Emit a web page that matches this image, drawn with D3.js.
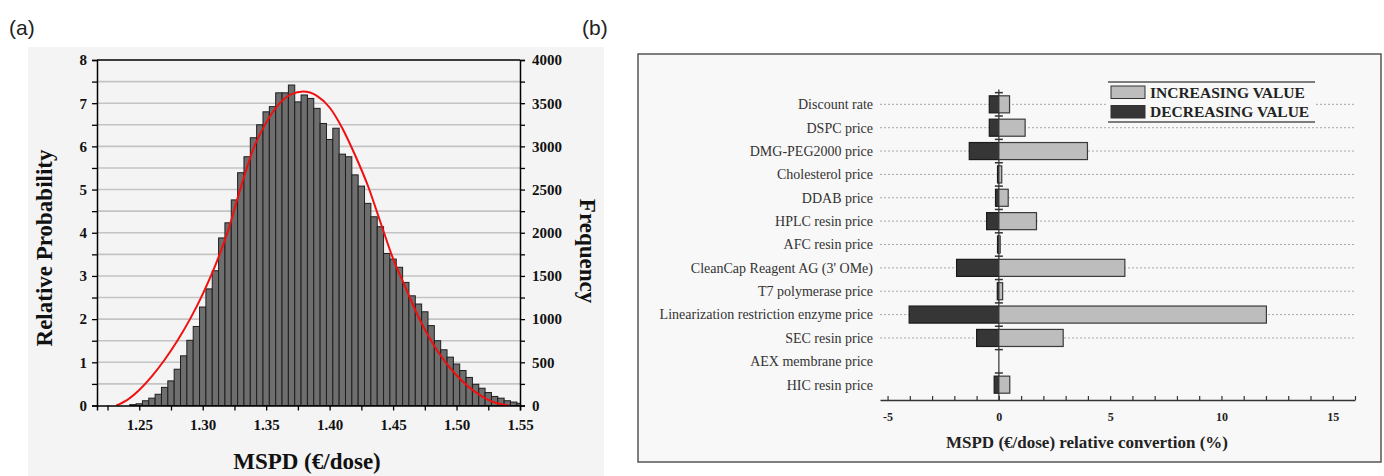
<!DOCTYPE html>
<html>
<head>
<meta charset="utf-8">
<title>MSPD histogram and tornado</title>
<script src="https://d3js.org/d3.v7.min.js"></script>
<style>
  body { margin: 0; background: #fff; }
  svg text { font-family: "Liberation Serif", "Times New Roman", serif; }
</style>
</head>
<body>
<div id="chart"></div>
<script>
// ---- data (a): histogram of MSPD, bin centres and relative probability
const binCenters = [1.245, 1.25, 1.255, 1.26, 1.265, 1.27, 1.275, 1.28, 1.285, 1.29, 1.295,
  1.30, 1.305, 1.31, 1.315, 1.32, 1.325, 1.33, 1.335, 1.34, 1.345, 1.35, 1.355, 1.36, 1.365,
  1.37, 1.375, 1.38, 1.385, 1.39, 1.395, 1.40, 1.405, 1.41, 1.415, 1.42, 1.425, 1.43, 1.435,
  1.44, 1.445, 1.45, 1.455, 1.46, 1.465, 1.47, 1.475, 1.48, 1.485, 1.49, 1.495, 1.50, 1.505,
  1.51, 1.515, 1.52, 1.525, 1.53, 1.535, 1.54, 1.545, 1.55];
const relProb = [0.02, 0.04, 0.11, 0.17, 0.26, 0.42, 0.57, 0.84, 1.15, 1.51, 1.83,
  2.28, 2.70, 3.12, 3.88, 4.23, 4.76, 5.39, 5.76, 6.20, 6.50, 6.80, 6.92, 7.24, 7.24,
  7.42, 7.03, 7.19, 7.11, 6.88, 6.53, 6.16, 6.42, 5.82, 5.76, 5.34, 5.08, 4.68, 4.37,
  4.14, 3.52, 3.39, 3.20, 2.85, 2.54, 2.35, 2.17, 1.85, 1.50, 1.29, 1.12, 0.96, 0.81,
  0.65, 0.49, 0.40, 0.30, 0.21, 0.17, 0.11, 0.08, 0.05];
const binWidth = 0.005;

// fitted curve, points
const fitX = [1.232, 1.24, 1.25, 1.26, 1.27, 1.28, 1.29, 1.30, 1.31, 1.32, 1.33,
  1.34, 1.35, 1.36, 1.37, 1.379, 1.39, 1.40, 1.41, 1.42, 1.43, 1.44, 1.45,
  1.46, 1.47, 1.48, 1.49, 1.50, 1.51, 1.52, 1.53, 1.541];
const fitY = [0, 0.12, 0.36, 0.68, 1.06, 1.50, 2.00, 2.58, 3.25, 4.05, 5.05,
  5.95, 6.55, 6.98, 7.21, 7.27, 7.17, 6.90, 6.42, 5.80, 5.10, 4.25, 3.40,
  2.72, 2.05, 1.50, 1.05, 0.70, 0.42, 0.21, 0.07, 0];

const xTicksA = [1.25, 1.30, 1.35, 1.40, 1.45, 1.50, 1.55];

// ---- data (b): tornado
const factors = ["Discount rate", "DSPC price", "DMG-PEG2000 price", "Cholesterol price",
  "DDAB price", "HPLC resin price", "AFC resin price", "CleanCap Reagent AG (3' OMe)",
  "T7 polymerase price", "Linearization restriction enzyme price", "SEC resin price",
  "AEX membrane price", "HIC resin price"];
const increasing = [0.48, 1.18, 3.98, 0.13, 0.42, 1.69, 0.06, 5.66, 0.17, 12.02, 2.89, 0, 0.49];
const decreasing = [-0.43, -0.43, -1.33, -0.06, -0.15, -0.55, -0.06, -1.90, -0.07, -4.03, -1.00, 0, -0.21];
const xTicksB = [-5, 0, 5, 10, 15];

const W = 1384, H = 476;
const svg = d3.select("#chart").append("svg")
  .attr("width", W).attr("height", H);

// ================= panel (a) =================
svg.append("rect").attr("x", 28).attr("y", 47).attr("width", 576).attr("height", 429)
  .attr("fill", "#f4f4f4");

const xA = d3.scaleLinear().domain([1.2167, 1.55]).range([97, 520]);
const yA = d3.scaleLinear().domain([0, 8]).range([405.5, 60]);
const yF = d3.scaleLinear().domain([0, 4000]).range([405.5, 60]);

// grid lines every 0.5
svg.append("g").selectAll("line")
  .data(d3.range(1, 16).map(i => i * 0.5))
  .join("line")
  .attr("x1", 97).attr("x2", 520)
  .attr("y1", d => yA(d)).attr("y2", d => yA(d))
  .attr("stroke", "#c4c4c4").attr("stroke-width", 1.6);

svg.append("clipPath").attr("id", "clipA")
  .append("rect").attr("x", 97).attr("y", 55).attr("width", 423).attr("height", 351);

const bars = svg.append("g").attr("clip-path", "url(#clipA)");
bars.selectAll("rect")
  .data(binCenters)
  .join("rect")
  .attr("x", d => xA(d - binWidth / 2))
  .attr("width", d => xA(d + binWidth / 2) - xA(d - binWidth / 2))
  .attr("y", (d, i) => yA(relProb[i]))
  .attr("height", (d, i) => yA(0) - yA(relProb[i]))
  .attr("fill", "#6e6e6e")
  .attr("stroke", "#1e1e1e").attr("stroke-width", 1);

const fitLine = d3.line()
  .x((d, i) => xA(fitX[i]))
  .y(d => yA(d))
  .curve(d3.curveMonotoneX);
bars.append("path")
  .attr("d", fitLine(fitY))
  .attr("fill", "none").attr("stroke", "#f01010").attr("stroke-width", 2);

// frame top
svg.append("line").attr("x1", 97).attr("x2", 520).attr("y1", 60).attr("y2", 60)
  .attr("stroke", "#000").attr("stroke-width", 1.5);

const axLeft = svg.append("g").attr("transform", "translate(97,0)")
  .call(d3.axisLeft(yA).tickValues(d3.range(0, 17).map(i => i * 0.5))
    .tickFormat(d => Number.isInteger(d) ? d : "").tickSize(5).tickPadding(5));
const axRight = svg.append("g").attr("transform", "translate(520,0)")
  .call(d3.axisRight(yF).tickValues(d3.range(0, 17).map(i => i * 250))
    .tickFormat(d => d % 500 === 0 ? d : "").tickSize(5).tickPadding(7));
const axBottom = svg.append("g").attr("transform", "translate(0,405.5)")
  .call(d3.axisBottom(xA).tickValues(d3.range(0, 14).map(i => 1.225 + i * 0.025))
    .tickFormat(d => xTicksA.some(t => Math.abs(t - d) < 1e-6) ? d3.format(".2f")(d) : "")
    .tickSize(5).tickPadding(9));

[axLeft, axRight, axBottom].forEach(g => {
  g.select(".domain").attr("stroke", "#000").attr("stroke-width", 1.5);
  g.selectAll(".tick line").attr("stroke", "#000").attr("stroke-width", 1.3);
  g.selectAll("text").attr("font-size", 15).attr("font-weight", "bold")
    .attr("font-family", "Liberation Serif").attr("fill", "#111");
});

svg.append("text")
  .attr("transform", "translate(52,248) rotate(-90)")
  .attr("text-anchor", "middle")
  .attr("font-size", 23).attr("font-weight", "bold").attr("fill", "#111")
  .text("Relative Probability");
svg.append("text")
  .attr("transform", "translate(580,251) rotate(90)")
  .attr("text-anchor", "middle")
  .attr("font-size", 23).attr("font-weight", "bold").attr("fill", "#111")
  .text("Frequency");
svg.append("text")
  .attr("x", 307).attr("y", 469)
  .attr("text-anchor", "middle")
  .attr("font-size", 23).attr("font-weight", "bold").attr("fill", "#111")
  .text("MSPD (€/dose)");

svg.append("text").attr("x", 9).attr("y", 35)
  .style("font-family", "'Liberation Sans', sans-serif")
  .attr("font-size", 21).attr("fill", "#222")
  .text("(a)");
svg.append("text").attr("x", 582).attr("y", 35)
  .style("font-family", "'Liberation Sans', sans-serif")
  .attr("font-size", 21).attr("fill", "#222")
  .text("(b)");

// ================= panel (b) =================
svg.append("rect").attr("x", 638).attr("y", 54).attr("width", 743).attr("height", 408)
  .attr("fill", "#f8f8f8").attr("stroke", "#555").attr("stroke-width", 1.5);

const xB = d3.scaleLinear().domain([-5.34, 16]).range([880, 1355]);
const yB = d3.scaleBand().domain(factors).range([89.5, 399.5]).padding(0.27);

// dotted row guides
svg.append("g").selectAll("line")
  .data(factors.slice(0, 11))
  .join("line")
  .attr("x1", 880).attr("x2", 1355)
  .attr("y1", d => yB(d) + yB.bandwidth() / 2)
  .attr("y2", d => yB(d) + yB.bandwidth() / 2)
  .attr("stroke", "#a8a8a8").attr("stroke-width", 1)
  .attr("stroke-dasharray", "2,2");

// row labels
svg.append("g").selectAll("text")
  .data(factors)
  .join("text")
  .attr("x", 873)
  .attr("y", d => yB(d) + yB.bandwidth() / 2)
  .attr("dy", "0.35em")
  .attr("text-anchor", "end")
  .attr("font-size", 14).attr("fill", "#333")
  .text(d => d);

// zero line with band ticks
svg.append("line").attr("x1", xB(0)).attr("x2", xB(0)).attr("y1", 89.5).attr("y2", 400)
  .attr("stroke", "#333").attr("stroke-width", 1.2);
svg.append("g").selectAll("line")
  .data(d3.range(factors.length))
  .join("line")
  .attr("x1", xB(0) - 4).attr("x2", xB(0) + 4)
  .attr("y1", i => yB(factors[i]) - yB.step() * yB.paddingInner() / 2)
  .attr("y2", i => yB(factors[i]) - yB.step() * yB.paddingInner() / 2)
  .attr("stroke", "#333").attr("stroke-width", 1.5);

// bars
svg.append("g").selectAll("rect")
  .data(factors)
  .join("rect")
  .attr("x", (d, i) => xB(decreasing[i]))
  .attr("width", (d, i) => xB(0) - xB(decreasing[i]))
  .attr("y", d => yB(d))
  .attr("height", yB.bandwidth())
  .attr("fill", "#363636").attr("stroke", "#1a1a1a").attr("stroke-width", 1.2)
  .style("display", (d, i) => decreasing[i] === 0 ? "none" : null);
svg.append("g").selectAll("rect")
  .data(factors)
  .join("rect")
  .attr("x", xB(0))
  .attr("width", (d, i) => xB(increasing[i]) - xB(0))
  .attr("y", d => yB(d))
  .attr("height", yB.bandwidth())
  .attr("fill", "#bdbdbd").attr("stroke", "#3a3a3a").attr("stroke-width", 1.2)
  .style("display", (d, i) => increasing[i] === 0 ? "none" : null);

// x axis
const axB = svg.append("g").attr("transform", "translate(0,400)")
  .call(d3.axisBottom(xB).tickValues(d3.range(-5, 17))
    .tickFormat(d => xTicksB.includes(d) ? d : "").tickSize(0).tickPadding(12));
axB.select(".domain").attr("stroke", "#333").attr("stroke-width", 1.3);
axB.selectAll(".tick line").attr("y2", -4).attr("stroke", "#333").attr("stroke-width", 1.2);
axB.selectAll("text").attr("font-size", 12).attr("font-weight", "bold")
  .attr("font-family", "Liberation Serif").attr("fill", "#222");

svg.append("text")
  .attr("x", 1087).attr("y", 448)
  .attr("text-anchor", "middle")
  .attr("font-size", 17).attr("font-weight", "bold").attr("fill", "#222")
  .text("MSPD (€/dose) relative convertion (%)");

// legend
const legend = svg.append("g");
legend.append("rect").attr("x", 1108).attr("y", 82).attr("width", 207).attr("height", 40)
  .attr("fill", "#f8f8f8");
legend.append("line").attr("x1", 1108).attr("x2", 1315).attr("y1", 82).attr("y2", 82)
  .attr("stroke", "#555").attr("stroke-width", 1.3);
legend.append("line").attr("x1", 1108).attr("x2", 1315).attr("y1", 122).attr("y2", 122)
  .attr("stroke", "#555").attr("stroke-width", 1.3);
const legendItems = [["INCREASING VALUE", "#bdbdbd"], ["DECREASING VALUE", "#363636"]];
legendItems.forEach(([label, fill], i) => {
  legend.append("rect").attr("x", 1111).attr("y", 86 + i * 19.5).attr("width", 34).attr("height", 12.5)
    .attr("fill", fill).attr("stroke", "#333").attr("stroke-width", 1);
  legend.append("text").attr("x", 1150).attr("y", 97.5 + i * 19.5)
    .attr("font-size", 15.5).attr("font-weight", "bold").attr("fill", "#222")
    .text(label);
});
</script>
</body>
</html>
